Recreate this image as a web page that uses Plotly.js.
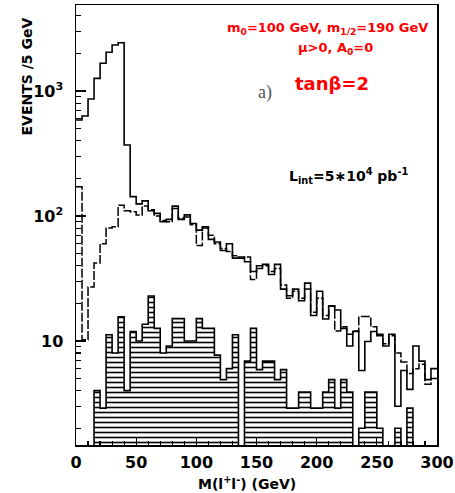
<!DOCTYPE html>
<html>
<head>
<meta charset="utf-8">
<script src="https://cdn.plot.ly/plotly-3.0.1.min.js"></script>
<style>html,body{margin:0;padding:0;background:#fff;}#plot{width:455px;height:493px;}</style>
</head>
<body>
<div id="plot"></div>
<script>
// Lower edges of the 5 GeV bins (GeV)
const binLow = [0,5,10,15,20,25,30,35,40,45,50,55,60,65,70,75,80,85,90,95,
  100,105,110,115,120,125,130,135,140,145,150,155,160,165,170,175,180,185,190,195,
  200,205,210,215,220,225,230,235,240,245,250,255,260,265,270,275,280,285,290,295];
const binWidth = 5;

// Solid histogram (events / 5 GeV)
const solidVals = [586, 631, 863, 1263, 1666, 2042, 2333, 2433, 370, 143,
  125, 132, 110, 105, 90, 94, 120, 94, 102, 87,
  77, 82, 65, 62, 53, 60, 46, 47, 43, 36,
  40, 41, 34, 41, 26, 23, 26, 21, 29, 16,
  25, 15, 19, 17.7, 12.6, 9.1, 11.9, 5.8, 9.9, 11.9,
  11.3, 9.1, 11.3, 3.0, 5.8, 4.1, 9.1, 6.9, 4.9, 6.0];

// Dashed histogram
const dashedVals = [171, 10.2, 27, 42, 60, 80, 82, 122, 110, 108,
  102, 120, 112, 100, 92, 90, 115, 96, 98, 85,
  58, 80, 70, 60, 55, 52, 48, 46, 47, 31,
  38, 40, 36, 38, 28, 22, 25, 22, 26, 17,
  22, 16, 19, 12, 13, 11.3, 12, 15.7, 15.7, 13,
  11, 9.5, 11, 8, 6.8, 5.5, 6, 6.5, 4.5, 5];

// Hatched histogram
const hatchVals = [0, 0, 0, 4.0, 2.9, 11.2, 8.0, 15.6, 4.0, 11.9,
  10.0, 13.6, 22.9, 12.6, 8.0, 9.1, 15.1, 15.1, 10.0, 10.0,
  15.1, 12.6, 12.6, 7.7, 4.9, 6.0, 11.2, 0, 6.9, 12.6,
  5.9, 6.9, 6.9, 4.9, 5.9, 2.9, 2.9, 3.9, 3.9, 2.9,
  2.9, 3.9, 4.9, 2.9, 4.9, 3.9, 0, 2.0, 3.9, 3.9,
  2.0, 0, 0, 2.0, 0, 2.9, 0, 0, 0, 0];

const xTickVals = [0, 50, 100, 150, 200, 250, 300];
const xTickText = ['0', '50', '100', '150', '200', '250', '300'];
const xMinorVals = [10,20,30,40,60,70,80,90,110,120,130,140,160,170,180,190,210,220,230,240,260,270,280,290];
const yTickVals = [10, 100, 1000];
const yTickText = ['10', '10<sup>2</sup>', '10<sup>3</sup>'];
const yMinorVals = [2,3,4,5,6,7,8,9,20,30,40,50,60,70,80,90,200,300,400,500,600,700,800,900,2000,3000,4000];

// helpers to build step outlines from bin values
const FLOOR = 0.1; // below the visible log range, for empty bins
function stepX() { return binLow.concat([binLow[binLow.length-1] + binWidth]); }
function stepY(v) { const y = v.map(a => a > 0 ? a : FLOOR); return y.concat([y[y.length-1]]); }
const centers = binLow.map(a => a + binWidth/2);

const traces = [
  {
    type: 'bar', x: centers, y: hatchVals.map(a => a > 0 ? a : null), width: binWidth,
    marker: {color: 'white', line: {width: 0},
      pattern: {shape: '-', fgcolor: 'black', bgcolor: 'white', size: 5, solidity: 0.32}},
    hoverinfo: 'skip'
  },
  {
    type: 'scatter', mode: 'lines', x: stepX(), y: stepY(hatchVals),
    line: {shape: 'hv', color: 'black', width: 1.6}
  },
  {
    type: 'scatter', mode: 'lines', x: stepX(), y: stepY(dashedVals),
    line: {shape: 'hv', color: 'black', width: 1.5, dash: '9px,2px'}
  },
  {
    type: 'scatter', mode: 'lines', x: stepX(), y: stepY(solidVals),
    line: {shape: 'hv', color: 'black', width: 1.6}
  }
];

const tickFont = {family: 'DejaVu Sans', size: 16, color: 'black', weight: 'bold'};
const red = '#ff0000';
const layout = {
  width: 455, height: 493,
  margin: {l: 76, r: 18, t: 5, b: 48},
  paper_bgcolor: 'white', plot_bgcolor: 'white',
  showlegend: false, bargap: 0, barmode: 'overlay',
  xaxis: {
    range: [0, 300], showline: true, mirror: true, linecolor: 'black', linewidth: 1.5,
    showgrid: false, zeroline: false,
    tickmode: 'array', tickvals: xTickVals, ticktext: xTickText,
    ticks: 'inside', ticklen: 8, tickwidth: 1.2, tickcolor: 'black',
    tickfont: tickFont, ticklabelstandoff: 2,
    minor: {tickmode: 'array', tickvals: xMinorVals, ticks: 'inside', ticklen: 4, tickwidth: 1.2, tickcolor: 'black', showgrid: false}
  },
  yaxis: {
    type: 'log', range: [Math.log10(1.47), Math.log10(4880)],
    showline: true, mirror: true, linecolor: 'black', linewidth: 1.5,
    showgrid: false, zeroline: false,
    tickmode: 'array', tickvals: yTickVals, ticktext: yTickText,
    ticks: 'inside', ticklen: 10, tickwidth: 1.2, tickcolor: 'black',
    tickfont: tickFont, ticklabelstandoff: 8,
    minor: {tickmode: 'array', tickvals: yMinorVals, ticks: 'inside', ticklen: 5, tickwidth: 1.2, tickcolor: 'black', showgrid: false}
  },
  annotations: [
    {xref: 'paper', yref: 'paper', x: 0.9806, y: 0.9477, xanchor: 'right', yanchor: 'middle', showarrow: false,
     text: '<b>m<sub>0</sub>=100 GeV, m<sub>1/2</sub>=190 GeV</b>', font: {family: 'DejaVu Sans', size: 13, color: red}},
    {xref: 'paper', yref: 'paper', x: 0.720, y: 0.902, xanchor: 'center', yanchor: 'middle', showarrow: false,
     text: '<b>μ>0, A<sub>0</sub>=0</b>', font: {family: 'DejaVu Sans', size: 13, color: red}},
    {xref: 'paper', yref: 'paper', x: 0.7105, y: 0.8205, xanchor: 'center', yanchor: 'middle', showarrow: false,
     text: '<b>tanβ=2</b>', font: {family: 'DejaVu Sans', size: 18, color: red}},
    {xref: 'paper', yref: 'paper', x: 0.5235, y: 0.802, xanchor: 'center', yanchor: 'middle', showarrow: false,
     text: 'a)', font: {family: 'Liberation Serif', size: 18, color: '#555555'}},
    {xref: 'paper', yref: 'paper', x: 0.7548, y: 0.6114, xanchor: 'center', yanchor: 'middle', showarrow: false,
     text: '<b>L<sub>int</sub>=5∗10<sup>4</sup> pb<sup>-1</sup></b>', font: {family: 'DejaVu Sans', size: 14, color: 'black'}},
    {xref: 'paper', yref: 'paper', x: -0.1357, y: 0.8375, xanchor: 'center', yanchor: 'middle', showarrow: false, textangle: -90,
     text: '<b>EVENTS /5 GeV</b>', font: {family: 'DejaVu Sans', size: 14, color: 'black'}},
    {xref: 'paper', yref: 'paper', x: 0.4737, y: -0.0864, xanchor: 'center', yanchor: 'middle', showarrow: false,
     text: '<b>M(l<sup>+</sup>l<sup>-</sup>) (GeV)</b>', font: {family: 'DejaVu Sans', size: 14, color: 'black'}}
  ]
};

Plotly.newPlot('plot', traces, layout, {staticPlot: true, displayModeBar: false});
</script>
</body>
</html>
